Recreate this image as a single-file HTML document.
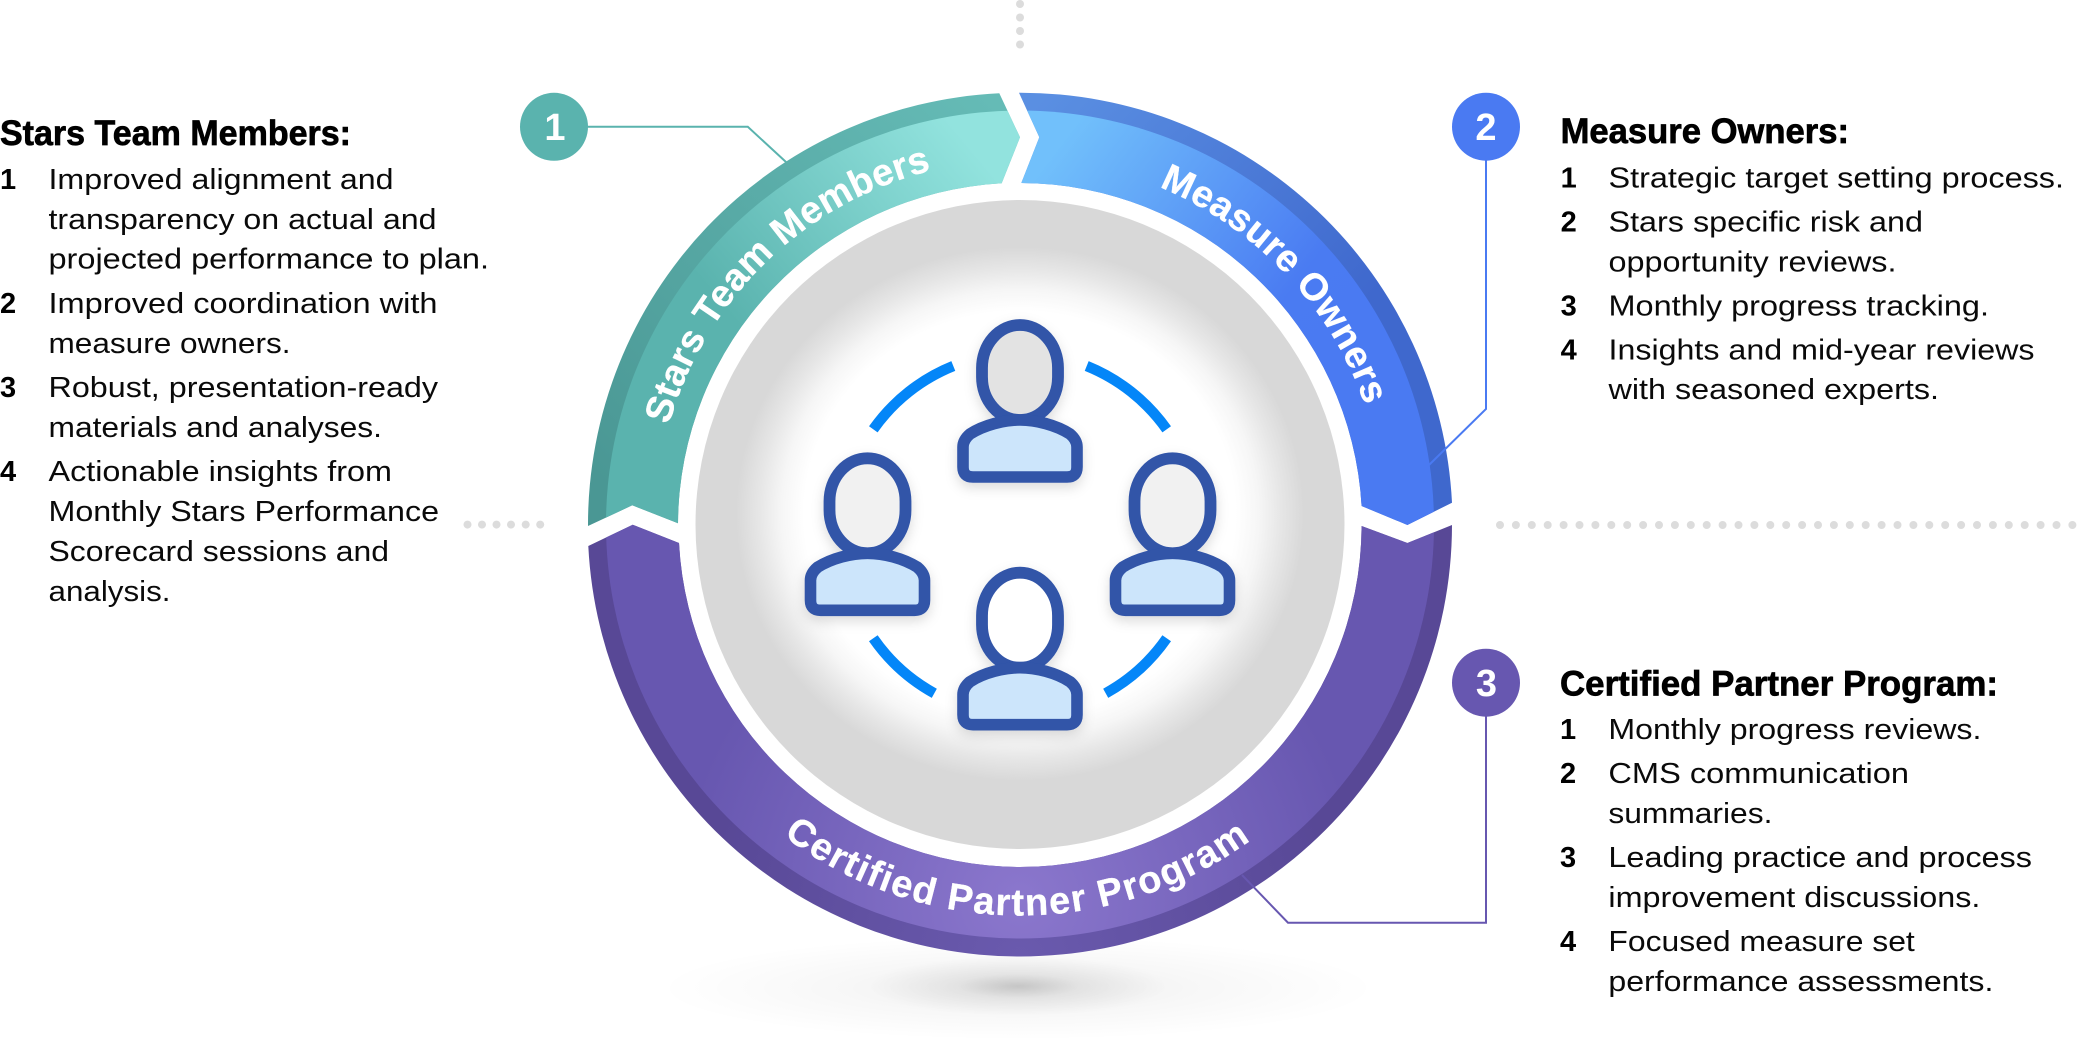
<!DOCTYPE html>
<html><head><meta charset="utf-8"><style>
html,body{margin:0;padding:0;background:#fff;width:2077px;height:1058px;overflow:hidden}
svg{display:block}
.b{font:29px "Liberation Sans",sans-serif;fill:#0a0a0a}
.n{font:bold 29px "Liberation Sans",sans-serif;fill:#000}
.h{font:bold 35px "Liberation Sans",sans-serif;fill:#000;stroke:#000;stroke-width:.7}
.c{font:bold 38px "Liberation Sans",sans-serif;fill:#fff;text-anchor:middle}
.r{font:bold 38px "Liberation Sans",sans-serif;fill:#fff;stroke:#fff;stroke-width:.3;text-anchor:middle}
</style></head><body>
<svg width="2077" height="1058" viewBox="0 0 2077 1058" xmlns="http://www.w3.org/2000/svg">
<defs>
<radialGradient id="grey" gradientUnits="userSpaceOnUse" cx="1020" cy="0" r="284" gradientTransform="translate(0 514) scale(1 .94)">
<stop offset="0" stop-color="#fff"/><stop offset=".76" stop-color="#fff"/><stop offset=".84" stop-color="#f6f6f6"/><stop offset=".92" stop-color="#e6e6e6"/><stop offset="1" stop-color="#d8d8d8"/>
</radialGradient>
<radialGradient id="sh1" cx=".5" cy=".5" r=".5"><stop offset="0" stop-color="#000" stop-opacity=".07"/><stop offset=".5" stop-color="#000" stop-opacity=".03"/><stop offset="1" stop-color="#000" stop-opacity="0"/></radialGradient>
<radialGradient id="sh2" cx=".5" cy=".5" r=".5"><stop offset="0" stop-color="#000" stop-opacity=".17"/><stop offset=".4" stop-color="#000" stop-opacity=".06"/><stop offset="1" stop-color="#000" stop-opacity="0"/></radialGradient>
<linearGradient id="tf" gradientUnits="userSpaceOnUse" x1="990" y1="170" x2="690" y2="420"><stop offset="0" stop-color="#92e3de"/><stop offset=".75" stop-color="#5ab3ae"/><stop offset="1" stop-color="#5ab3ae"/></linearGradient>
<linearGradient id="tb" gradientUnits="userSpaceOnUse" x1="980" y1="90" x2="600" y2="480"><stop offset="0" stop-color="#65bbb6"/><stop offset="1" stop-color="#4a9794"/></linearGradient>
<linearGradient id="bf" gradientUnits="userSpaceOnUse" x1="1040" y1="170" x2="1330" y2="390"><stop offset="0" stop-color="#71c0fb"/><stop offset=".75" stop-color="#4a7bf2"/><stop offset="1" stop-color="#4a7af2"/></linearGradient>
<linearGradient id="bb" gradientUnits="userSpaceOnUse" x1="1050" y1="90" x2="1440" y2="460"><stop offset="0" stop-color="#5a8fe2"/><stop offset=".7" stop-color="#3f68cd"/><stop offset="1" stop-color="#3f68cd"/></linearGradient>
<radialGradient id="pf" gradientUnits="userSpaceOnUse" cx="1020" cy="900" r="340"><stop offset="0" stop-color="#8b77cd"/><stop offset="1" stop-color="#6757b0"/></radialGradient>
<radialGradient id="pb" gradientUnits="userSpaceOnUse" cx="1020" cy="960" r="330"><stop offset="0" stop-color="#6a5aae"/><stop offset="1" stop-color="#584896"/></radialGradient>
<clipPath id="in"><circle cx="1020" cy="524.5" r="414"/></clipPath>
<filter id="ps" x="-30%" y="-30%" width="160%" height="170%"><feDropShadow dx="0" dy="5" stdDeviation="6" flood-color="#000" flood-opacity=".14"/></filter>
<path id="arcT" d="M703.9 342A365 365 0 0 1 1336.1 342" fill="none"/>
<path id="arcB" d="M681.4 720A391 391 0 0 0 1358.6 720" fill="none"/>
<g id="person">
<path d="M973 477H1067Q1077 477 1077 467V447Q1077 440 1070 434C1056 425 1036 420 1020 420C1004 420 984 425 970 434Q963 440 963 447V467Q963 477 973 477Z" fill="#cce5fb" stroke="#3054a8" stroke-width="11.6" stroke-linejoin="round"/>
</g>
</defs>

<ellipse cx="1018" cy="988" rx="360" ry="52" fill="url(#sh1)"/>
<ellipse cx="1018" cy="986" rx="150" ry="30" fill="url(#sh2)"/>

<g fill="#dcdcdc">
<circle cx="1020" cy="4" r="4"/><circle cx="1020" cy="17.5" r="4"/><circle cx="1020" cy="31" r="4"/><circle cx="1020" cy="44.5" r="4"/>
<circle cx="467.5" cy="524.6" r="4"/><circle cx="482" cy="524.6" r="4"/><circle cx="496.5" cy="524.6" r="4"/><circle cx="511" cy="524.6" r="4"/><circle cx="525.7" cy="524.6" r="4"/><circle cx="540.2" cy="524.6" r="4"/>
</g>
<line x1="1500" y1="525" x2="2077" y2="525" stroke="#dcdcdc" stroke-width="8" stroke-linecap="round" stroke-dasharray="0 15.9"/>

<!-- segments -->
<path d="M588 526A432 432 0 0 1 999.3 93.3L1020 137.3L1001.7 183.3A342.5 342.5 0 0 0 678 523.3L632.3 505.3Z" fill="url(#tb)"/>
<path d="M588 526A432 432 0 0 1 999.3 93.3L1020 137.3L1001.7 183.3A342.5 342.5 0 0 0 678 523.3L632.3 505.3Z" fill="url(#tf)" clip-path="url(#in)"/>
<path d="M1019 92.7A432 432 0 0 1 1452 502.7L1407.4 525L1361.6 506A342.5 342.5 0 0 0 1021.3 183L1039.3 137.3Z" fill="url(#bb)"/>
<path d="M1019 92.7A432 432 0 0 1 1452 502.7L1407.4 525L1361.6 506A342.5 342.5 0 0 0 1021.3 183L1039.3 137.3Z" fill="url(#bf)" clip-path="url(#in)"/>
<path d="M588.3 546L632.7 524.7L679 543A342 342 0 0 0 1020 867A342 342 0 0 0 1361.6 526L1407.4 543L1452 525A432 432 0 0 1 1020 956.5A432 432 0 0 1 588.3 546Z" fill="url(#pb)"/>
<path d="M588.3 546L632.7 524.7L679 543A342 342 0 0 0 1020 867A342 342 0 0 0 1361.6 526L1407.4 543L1452 525A432 432 0 0 1 1020 956.5A432 432 0 0 1 588.3 546Z" fill="url(#pf)" clip-path="url(#in)"/>

<circle cx="1020" cy="524.5" r="324.5" fill="url(#grey)"/>

<!-- ring labels -->
<g transform="rotate(-44.1 1020 524.5)"><text class="r" letter-spacing=".2"><textPath href="#arcT" startOffset="50%">Stars Team Members</textPath></text></g>
<g transform="rotate(46.7 1020 524.5)"><text class="r" letter-spacing=".4"><textPath href="#arcT" startOffset="50%">Measure Owners</textPath></text></g>
<g transform="rotate(.45 1020 524.5)"><text class="r" letter-spacing="1.5"><textPath href="#arcB" startOffset="50%">Certified Partner Program</textPath></text></g>

<!-- dashed arcs -->
<g fill="none" stroke="#0486f8" stroke-width="10.5">
<path d="M953.3 366A180.5 180.5 0 0 0 873.3 429.3"/>
<path d="M1086.7 366A180.5 180.5 0 0 1 1166.7 429.3"/>
<path d="M873.3 638.3A180.5 180.5 0 0 0 934.3 693.3"/>
<path d="M1166.7 638.3A180.5 180.5 0 0 1 1105.7 693.3"/>
</g>

<!-- people -->
<g filter="url(#ps)"><rect x="982" y="325" width="76" height="95" rx="38" ry="43" fill="#e3e3e3" stroke="#3054a8" stroke-width="11.8"/><use href="#person"/></g>
<g filter="url(#ps)" transform="translate(-152.5 133.3)"><rect x="982" y="325" width="76" height="95" rx="38" ry="43" fill="#f1f1f1" stroke="#3054a8" stroke-width="11.8"/><use href="#person"/></g>
<g filter="url(#ps)" transform="translate(152.5 133.3)"><rect x="982" y="325" width="76" height="95" rx="38" ry="43" fill="#f1f1f1" stroke="#3054a8" stroke-width="11.8"/><use href="#person"/></g>
<g filter="url(#ps)" transform="translate(0 247.7)"><rect x="982" y="325" width="76" height="95" rx="38" ry="43" fill="#fff" stroke="#3054a8" stroke-width="11.8"/><use href="#person"/></g>

<!-- connectors -->
<g fill="none" stroke-width="2">
<path d="M554 126.8H747.8L786 162" stroke="#5ab3ae"/>
<path d="M1486 127V409L1429 465" stroke="#4a7af2"/>
<path d="M1486 683V922.7H1288L1242 875" stroke="#6757b0"/>
</g>
<circle cx="554" cy="126.8" r="34" fill="#5ab3ae"/>
<circle cx="1486" cy="126.7" r="34" fill="#4a7af2"/>
<circle cx="1486" cy="682.7" r="34" fill="#6757b0"/>
<text class="c" x="555" y="140">1</text>
<text class="c" x="1486" y="140">2</text>
<text class="c" x="1486.5" y="696">3</text>

<!-- left -->
<text class="h" x="0" y="145" textLength="351" lengthAdjust="spacingAndGlyphs">Stars Team Members:</text>
<text class="n" x="0" y="189">1</text>
<text class="b" x="48.5" y="189" textLength="345" lengthAdjust="spacingAndGlyphs">Improved alignment and</text>
<text class="b" x="48.5" y="229" textLength="388" lengthAdjust="spacingAndGlyphs">transparency on actual and</text>
<text class="b" x="48.5" y="268.6" textLength="440.5" lengthAdjust="spacingAndGlyphs">projected performance to plan.</text>
<text class="n" x="0" y="313">2</text>
<text class="b" x="48.5" y="313" textLength="389" lengthAdjust="spacingAndGlyphs">Improved coordination with</text>
<text class="b" x="48.5" y="353" textLength="242" lengthAdjust="spacingAndGlyphs">measure owners.</text>
<text class="n" x="0" y="397">3</text>
<text class="b" x="48.5" y="397" textLength="389.5" lengthAdjust="spacingAndGlyphs">Robust, presentation-ready</text>
<text class="b" x="48.5" y="437" textLength="333.5" lengthAdjust="spacingAndGlyphs">materials and analyses.</text>
<text class="n" x="0" y="481">4</text>
<text class="b" x="48.5" y="481" textLength="343.5" lengthAdjust="spacingAndGlyphs">Actionable insights from</text>
<text class="b" x="48.5" y="521" textLength="390.5" lengthAdjust="spacingAndGlyphs">Monthly Stars Performance</text>
<text class="b" x="48.5" y="561" textLength="340.5" lengthAdjust="spacingAndGlyphs">Scorecard sessions and</text>
<text class="b" x="48.5" y="601" textLength="122" lengthAdjust="spacingAndGlyphs">analysis.</text>

<!-- right top -->
<text class="h" x="1560.6" y="143" textLength="288.4" lengthAdjust="spacingAndGlyphs">Measure Owners:</text>
<text class="n" x="1560.6" y="187.3">1</text>
<text class="b" x="1608.5" y="187.3" textLength="455.5" lengthAdjust="spacingAndGlyphs">Strategic target setting process.</text>
<text class="n" x="1560.6" y="231.7">2</text>
<text class="b" x="1608.5" y="231.7" textLength="314.5" lengthAdjust="spacingAndGlyphs">Stars specific risk and</text>
<text class="b" x="1608.5" y="271.3" textLength="288" lengthAdjust="spacingAndGlyphs">opportunity reviews.</text>
<text class="n" x="1560.6" y="315.7">3</text>
<text class="b" x="1608.5" y="315.7" textLength="380.5" lengthAdjust="spacingAndGlyphs">Monthly progress tracking.</text>
<text class="n" x="1560.6" y="359.3">4</text>
<text class="b" x="1608.5" y="359.3" textLength="426" lengthAdjust="spacingAndGlyphs">Insights and mid-year reviews</text>
<text class="b" x="1608.5" y="398.8" textLength="330.5" lengthAdjust="spacingAndGlyphs">with seasoned experts.</text>

<!-- right bottom -->
<text class="h" x="1560" y="695.7" textLength="438" lengthAdjust="spacingAndGlyphs">Certified Partner Program:</text>
<text class="n" x="1560" y="739">1</text>
<text class="b" x="1608.4" y="739" textLength="373" lengthAdjust="spacingAndGlyphs">Monthly progress reviews.</text>
<text class="n" x="1560" y="783">2</text>
<text class="b" x="1608.4" y="783" textLength="300.6" lengthAdjust="spacingAndGlyphs">CMS communication</text>
<text class="b" x="1608.4" y="823" textLength="164" lengthAdjust="spacingAndGlyphs">summaries.</text>
<text class="n" x="1560" y="867">3</text>
<text class="b" x="1608.4" y="867" textLength="423.6" lengthAdjust="spacingAndGlyphs">Leading practice and process</text>
<text class="b" x="1608.4" y="907" textLength="372" lengthAdjust="spacingAndGlyphs">improvement discussions.</text>
<text class="n" x="1560" y="951">4</text>
<text class="b" x="1608.4" y="951" textLength="306.4" lengthAdjust="spacingAndGlyphs">Focused measure set</text>
<text class="b" x="1608.4" y="991" textLength="385" lengthAdjust="spacingAndGlyphs">performance assessments.</text>
</svg>
</body></html>
